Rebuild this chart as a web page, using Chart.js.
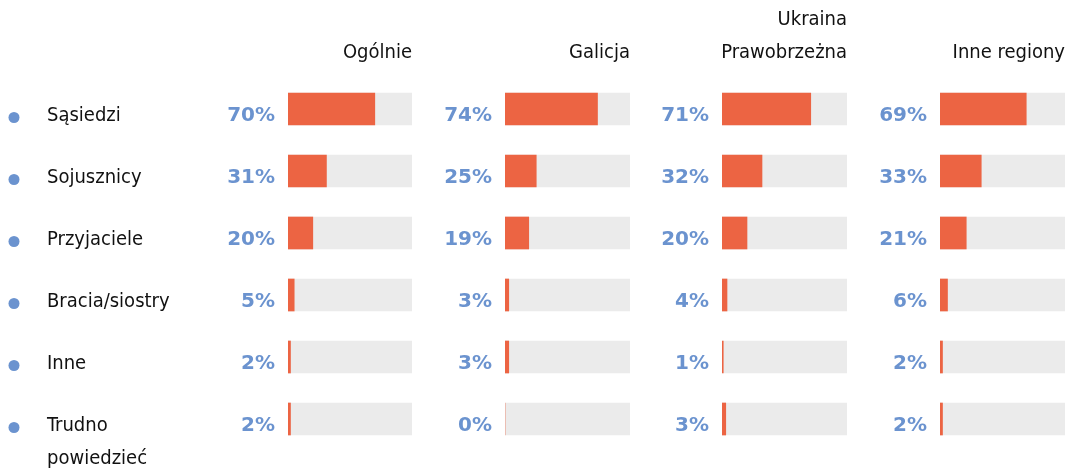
<!DOCTYPE html>
<html lang="pl">
<head>
<meta charset="utf-8">
<script src="https://cdn.jsdelivr.net/npm/chart.js@4"></script>
<style>
  html, body { margin: 0; padding: 0; background: #fff; }
  #wrap { position: relative; width: 1065px; height: 469px; overflow: hidden; }
  #wrap canvas { position: absolute; top: 0; }
</style>
</head>
<body>
<div id="wrap">
  <canvas id="c0" width="412" height="469" style="left:0px"></canvas>
  <canvas id="c1" width="218" height="469" style="left:412px"></canvas>
  <canvas id="c2" width="217" height="469" style="left:630px"></canvas>
  <canvas id="c3" width="218" height="469" style="left:847px"></canvas>
</div>
<script>
// Answer categories (row labels, multi-line where wrapped)
const categories = ['Sąsiedzi', 'Sojusznicy', 'Przyjaciele', 'Bracia/siostry', 'Inne', ['Trudno', 'powiedzieć']];
// Column headers
const regionHeaders = [['Ogólnie'], ['Galicja'], ['Ukraina', 'Prawobrzeżna'], ['Inne regiony']];
// Shares of answers, in percent
const ogolnie = [70, 31, 20, 5, 2, 2];
const galicja = [74, 25, 19, 3, 3, 0];
const prawobrzezna = [71, 32, 20, 4, 1, 3];
const inneRegiony = [69, 33, 21, 6, 2, 2];
// Full-scale background track
const trackMax = 100;

const seriesList = [ogolnie, galicja, prawobrzezna, inneRegiony];
const canvasIds = ['c0', 'c1', 'c2', 'c3'];
const leftPads = [288, 93, 92, 93];

const ORANGE = '#EC6443';
const TRACK = '#EBEBEB';
const BLUE = '#6B93CF';
const INK = '#111111';
const LABEL_FONT = '"DejaVu Sans Condensed", "Liberation Sans Narrow", Roboto, sans-serif';
const PCT_FONT = 'bold 20px "DejaVu Sans", Verdana, sans-serif';

function makeLabelPlugin(panelIndex) {
  return {
    id: 'panelText' + panelIndex,
    afterDatasetsDraw(chart) {
      const ctx = chart.ctx;
      const area = chart.chartArea;
      const meta = chart.getDatasetMeta(0);
      const values = chart.data.datasets[0].data;
      ctx.save();
      // percentage labels left of each bar
      ctx.font = PCT_FONT;
      ctx.fillStyle = BLUE;
      ctx.textAlign = 'right';
      ctx.textBaseline = 'middle';
      meta.data.forEach((bar, i) => {
        ctx.fillText(values[i] + '%', area.left - 13, bar.y + 7);
      });
      // header, right-aligned to the track end
      ctx.font = '20px ' + LABEL_FONT;
      ctx.fillStyle = INK;
      const header = regionHeaders[panelIndex];
      const lastY = 53;
      header.forEach((line, k) => {
        ctx.fillText(line, area.right, lastY - (header.length - 1 - k) * 33);
      });
      // row labels with bullet dots on the first panel
      if (panelIndex === 0) {
        ctx.textAlign = 'left';
        meta.data.forEach((bar, i) => {
          ctx.fillStyle = BLUE;
          ctx.beginPath();
          ctx.arc(14, bar.y + 8.5, 5.5, 0, Math.PI * 2);
          ctx.fill();
          ctx.fillStyle = INK;
          const lab = Array.isArray(categories[i]) ? categories[i] : [categories[i]];
          lab.forEach((line, k) => {
            ctx.fillText(line, 47, bar.y + 7 + k * 33);
          });
        });
      }
      ctx.restore();
    }
  };
}

seriesList.forEach((values, p) => {
  new Chart(document.getElementById(canvasIds[p]), {
    type: 'bar',
    data: {
      labels: categories.map((c, i) => i),
      datasets: [
        {
          data: values,
          backgroundColor: ORANGE,
          barThickness: 32,
          grouped: false,
          order: 0
        },
        {
          data: categories.map(() => trackMax),
          backgroundColor: TRACK,
          barThickness: 32,
          grouped: false,
          order: 1
        }
      ]
    },
    options: {
      indexAxis: 'y',
      responsive: false,
      animation: false,
      devicePixelRatio: 1,
      layout: { padding: { left: leftPads[p], right: 0, top: 78, bottom: 19 } },
      scales: {
        x: { min: 0, max: trackMax, display: false },
        y: { display: false, offset: true }
      },
      plugins: {
        legend: { display: false },
        tooltip: { enabled: false },
        title: { display: false }
      }
    },
    plugins: [makeLabelPlugin(p)]
  });
});
</script>
</body>
</html>
